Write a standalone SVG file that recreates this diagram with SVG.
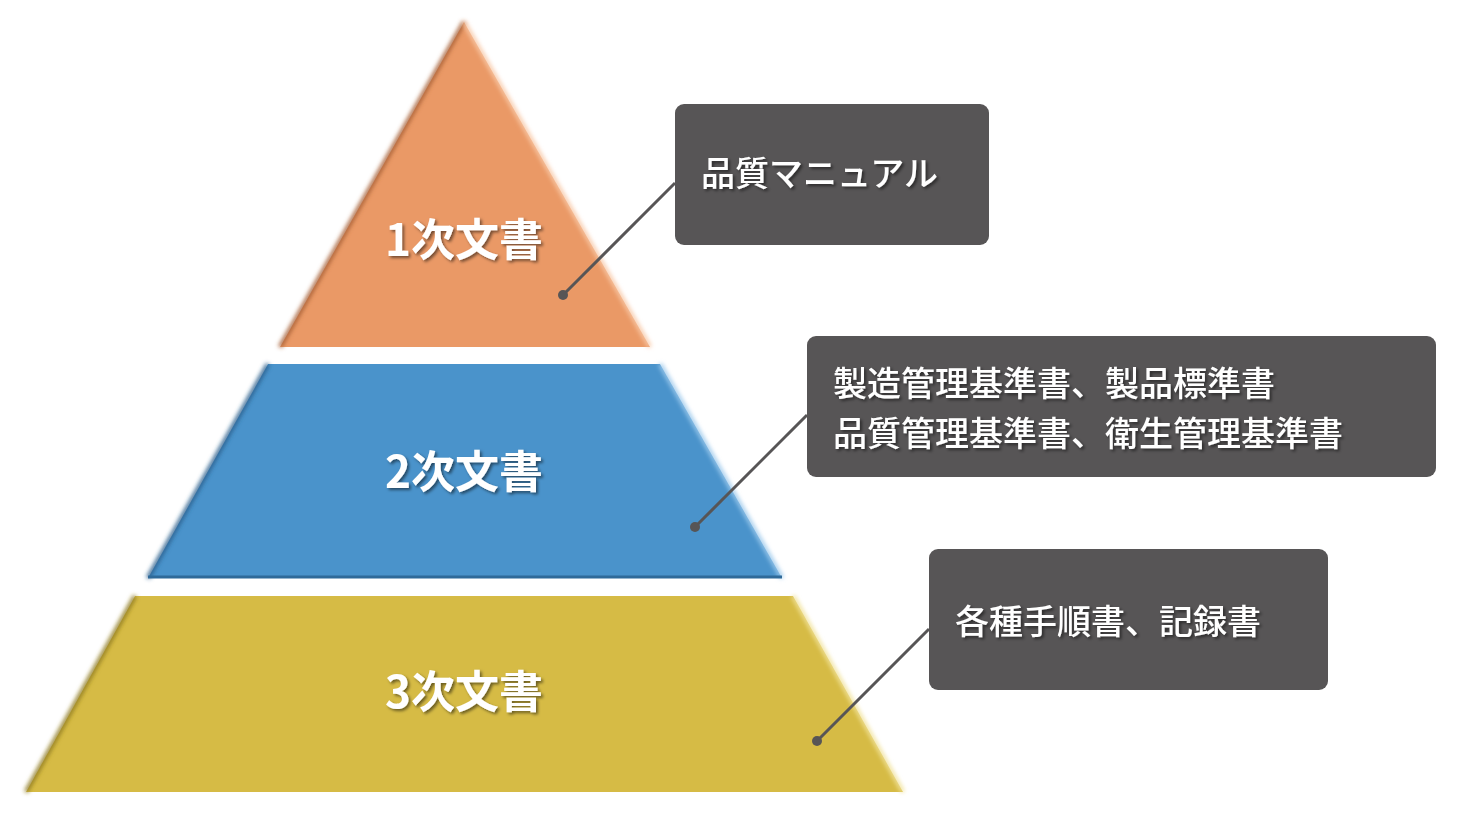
<svg xmlns="http://www.w3.org/2000/svg" width="1467" height="814" viewBox="0 0 1467 814">
<defs>
<filter id="sh" x="-10%" y="-10%" width="120%" height="130%"><feDropShadow dx="2" dy="2" stdDeviation="1.5" flood-color="#000" flood-opacity="0.5"/></filter>
<filter id="bev"><feGaussianBlur stdDeviation="2"/></filter>
</defs>
<style>
.lbl{font-family:"Noto Sans CJK JP","Liberation Sans",sans-serif;font-weight:bold;fill:#fff;font-size:44px;text-anchor:middle}
.bt{font-family:"Noto Sans CJK JP","Liberation Sans",sans-serif;font-weight:500;fill:#fff;font-size:34px}
.box{fill:#575556}
.con{stroke:#575556;stroke-width:3;fill:none}
.dot{fill:#575556}
</style>
<rect width="1467" height="814" fill="#fff"/>
<g id="level1">
<polygon points="464,22 650,347 280,347" fill="#EA9966"/>
<polyline points="280,347 464,22" stroke="#a65e35" stroke-width="4" fill="none" filter="url(#bev)"/>
<polyline points="464,22 650,347" stroke="#f8c8a6" stroke-width="4" fill="none" filter="url(#bev)"/>
<text class="lbl" x="464" y="256" filter="url(#sh)">1次文書</text>
</g>
<g id="level2">
<polygon points="268,364 660,364 782,578 148,578" fill="#4A93CB"/>
<polyline points="148,578 268,364" stroke="#2a5f8c" stroke-width="4" fill="none" filter="url(#bev)"/>
<polyline points="660,364 782,578" stroke="#9cc9ec" stroke-width="4" fill="none" filter="url(#bev)"/>
<line x1="148" y1="577" x2="782" y2="577" stroke="#2f6a99" stroke-width="3"/>
<text class="lbl" x="464" y="488" filter="url(#sh)">2次文書</text>
</g>
<g id="level3">
<polygon points="135,596 793,596 903,792 26,792" fill="#D6BB45"/>
<polyline points="26,792 135,596" stroke="#8f7a20" stroke-width="4" fill="none" filter="url(#bev)"/>
<polyline points="793,596 903,792" stroke="#f1e29a" stroke-width="4" fill="none" filter="url(#bev)"/>
<text class="lbl" x="464" y="708" filter="url(#sh)">3次文書</text>
</g>
<g id="connectors">
<line class="con" x1="563" y1="295" x2="675" y2="183"/><circle class="dot" cx="563" cy="295" r="5"/>
<line class="con" x1="695" y1="527" x2="807" y2="415"/><circle class="dot" cx="695" cy="527" r="5"/>
<line class="con" x1="817" y1="741" x2="929" y2="629"/><circle class="dot" cx="817" cy="741" r="5"/>
</g>
<g id="box1">
<rect class="box" x="675" y="104" width="314" height="141" rx="9"/>
<text class="bt" x="701" y="186" filter="url(#sh)">品質マニュアル</text>
</g>
<g id="box2">
<rect class="box" x="807" y="336" width="629" height="141" rx="9"/>
<text class="bt" x="833" y="396" filter="url(#sh)">製造管理基準書、製品標準書</text>
<text class="bt" x="833" y="446" filter="url(#sh)">品質管理基準書、衛生管理基準書</text>
</g>
<g id="box3">
<rect class="box" x="929" y="549" width="399" height="141" rx="9"/>
<text class="bt" x="955" y="634" filter="url(#sh)">各種手順書、記録書</text>
</g>
</svg>
